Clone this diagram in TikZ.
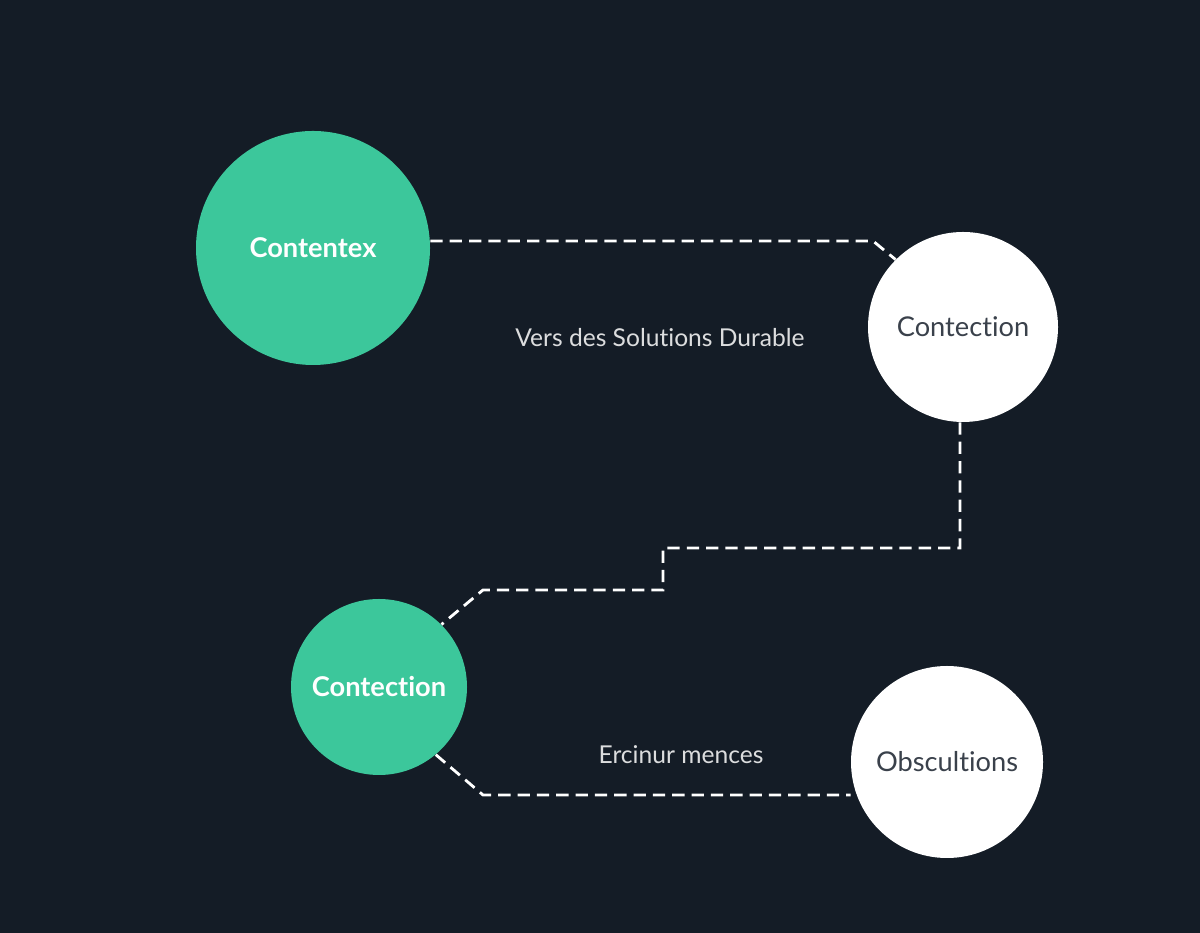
\documentclass[tikz,border=0pt]{standalone}
\usepackage{fontspec}
\setmainfont[Ligatures={NoCommon,NoRare,NoContextual}]{Lato}
\usetikzlibrary{calc}
\definecolor{bg}{HTML}{141C26}
\definecolor{mint}{HTML}{3CC79B}
\definecolor{ink}{HTML}{3A414B}
\tikzset{
    green/.style = {circle, fill=mint, text=white, minimum size=#1, inner sep=0pt, font=\fontsize{15.5}{18}\selectfont\bfseries},
    white/.style = {circle, fill=white, text=ink, minimum size=#1, inner sep=0pt, font=\fontsize{15.5}{18}\selectfont},
    link/.style = {draw=white, line width=1.6pt, dash pattern=on 7pt off 4pt},
    label/.style = {text=white!85!bg, font=\fontsize{14}{16}\selectfont}
}
\begin{document}
\begin{tikzpicture}
    \fill[bg] (0,0) rectangle (24,18.66);
    \node [green=4.68cm] (ctx) at (6.26,13.70) {Contentex};
    \node [white=3.8cm] (con1) at (19.26,12.12) {Contection};
    \node [green=3.52cm] (con2) at (7.58,4.92) {Contection};
    \node [white=3.84cm] (obs) at (18.94,3.42) {Obscultions};
    \node [label] (vers) at (13.2,11.9) {Vers des Solutions Durable};
    \node [label] (erc) at (13.62,3.56) {Ercinur mences};
    % bends
    \coordinate (b1) at (17.46,13.84);
    \coordinate (b2) at (19.2,7.7);
    \coordinate (b3) at (13.26,7.7);
    \coordinate (b4) at (13.26,6.86);
    \coordinate (b5) at (9.66,6.86);
    \coordinate (b6) at (9.66,2.76);
    \draw [link] (ctx.east |- b1) -- (b1) -- (con1.135);
    \draw [link] (con1.south -| b2) -- (b2) -- (b3) -- (b4) -- (b5) -- (con2.45);
    \draw [link] (con2.-50) -- (b6) -- (obs.west |- b6);
\end{tikzpicture}
\end{document}
